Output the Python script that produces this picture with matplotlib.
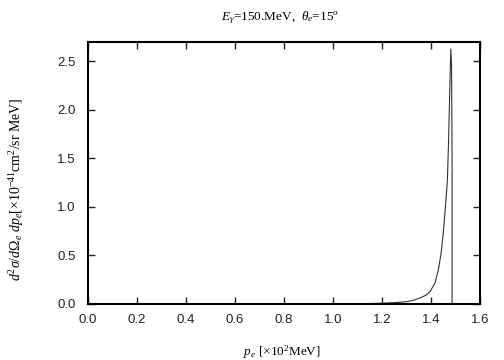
import numpy as np
import matplotlib
matplotlib.use("Agg")
import matplotlib.pyplot as plt

# electron momentum [x10^2 MeV] and cross section [x10^-41 cm^2/sr MeV]
pe = [0.0, 0.5, 1.0, 1.1, 1.2, 1.25, 1.30, 1.33, 1.355, 1.38, 1.396, 1.416, 1.430,
      1.441, 1.450, 1.457, 1.464, 1.467, 1.471, 1.475, 1.478, 1.481, 1.484, 1.486, 1.486]
xs = [0.0, 0.0, 0.0005, 0.002, 0.008, 0.014, 0.024, 0.040, 0.062, 0.092, 0.127, 0.215, 0.35,
      0.52, 0.73, 0.94, 1.17, 1.28, 1.62, 2.03, 2.35, 2.63, 2.45, 1.5, 0.0]

plt.rcParams['mathtext.fontset'] = 'custom'
plt.rcParams['mathtext.rm'] = 'Liberation Serif'
plt.rcParams['mathtext.it'] = 'Liberation Serif:italic'

fig = plt.figure(figsize=(5.04, 3.60), dpi=100)
ax = fig.add_axes([88/504, 1-304/360, 392/504, 262/360])

ax.plot(pe, xs, color='#333333', linewidth=0.8)

ax.set_xlim(0, 1.6)
ax.set_ylim(0, 2.7)
ax.set_xticks(np.arange(0, 1.61, 0.2))
ax.set_yticks(np.arange(0, 2.51, 0.5))
ax.set_xticklabels([f"{v:.1f}" for v in np.arange(0, 1.61, 0.2)])
ax.set_yticklabels([f"{v:.1f}" for v in np.arange(0, 2.51, 0.5)])
ax.tick_params(direction='in', top=True, right=True, length=5, width=1,
               labelsize=9.5, colors='#222222')
ax.tick_params(axis='x', pad=7)
ax.tick_params(axis='y', pad=9)
for lab in ax.get_xticklabels() + ax.get_yticklabels():
    lab.set_family('Liberation Sans')
for s in ax.spines.values():
    s.set_linewidth(1.5)

fig.text(280/504, 1-18/360, r"$E_\gamma$=150.MeV,  $\theta_e$=15$^o$",
         ha='center', va='center', fontsize=9.5, family='Liberation Serif')
fig.text(282/504, 1-352/360, r"$p_e$ [$\times$10$^2$MeV]",
         ha='center', va='center', fontsize=9.5, family='Liberation Serif')
fig.text(17/504, 1-189/360,
         r"$d^2\sigma/d\Omega_e\ dp_e$[$\times$10$^{-41}$cm$^2$/sr MeV]",
         ha='center', va='center', rotation=90, fontsize=10,
         family='Liberation Serif')

fig.savefig("out.png", dpi=100)
